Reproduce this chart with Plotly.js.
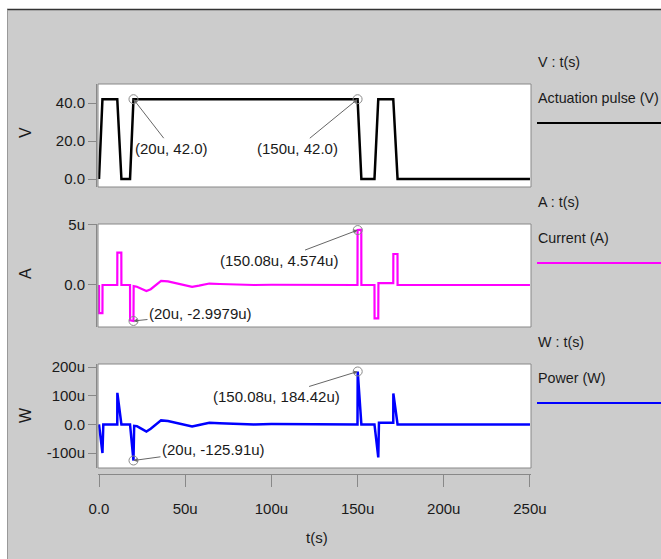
<!DOCTYPE html>
<html>
<head>
<meta charset="utf-8">
<script src="https://cdn.plot.ly/plotly-3.0.1.min.js"></script>
<style>html,body{margin:0;padding:0;background:#cccccc;}#chart{width:661px;height:559px;}</style>
</head>
<body>
<div id="chart"></div>
<script>
// ---- data (time in microseconds) ----
const vTime = [0, 2, 10.6, 13, 18, 20, 150, 152.2, 159.8, 162, 170.7, 173.2, 250];
const vVolt = [0, 42, 42, 0, 0, 42, 42, 0, 0, 42, 42, 0, 0];

const iTime = [0, 0.05, 2.0, 2.05, 10.6, 10.65, 12.95, 13.0, 18.0, 18.05, 20.0, 20.1, 22, 24, 27.5, 30, 33, 36, 40, 45, 50, 54, 58, 64, 70, 80, 90, 100, 149.95, 150.0, 152.15, 152.2, 159.8, 159.85, 162.0, 162.1, 170.7, 170.75, 173.15, 173.2, 250];
const iAmp  = [0, -2.35, -2.35, 0, 0, 2.7, 2.7, 0, 0, -2.95, -3.0, -0.1, -0.15, -0.3, -0.5, -0.35, 0.0, 0.35, 0.3, 0.15, -0.05, -0.15, -0.05, 0.12, 0.08, 0.03, 0, 0.02, 0, 4.574, 4.6, 0, 0, -2.78, -2.78, 0.15, 0.15, 2.58, 2.58, 0, 0];

const pTime = [0, 2.0, 2.5, 10.6, 10.65, 13.0, 18.0, 20.0, 20.4, 22, 24, 27.5, 30, 33, 36, 40, 45, 50, 54, 58, 64, 70, 80, 90, 100, 149.95, 150.08, 152.2, 159.8, 162.0, 162.4, 170.7, 170.75, 173.2, 250];
const pWatt = [0, -100, 0, 0, 110, 0, 0, -125.91, -5, -6, -13, -25, -15, 0, 14, 12, 6, -2, -7, -2, 6, 4, 2, 0, 1, 0, 184.42, 0, 0, -115, 6, 6, 108, 0, 0];

const vMarkT = [20, 150],    vMarkY = [42, 42],          vMarkTxt = ["(20u, 42.0)", "(150u, 42.0)"];
const iMarkT = [20, 150.08], iMarkY = [-2.9979, 4.574],  iMarkTxt = ["(20u, -2.9979u)", "(150.08u, 4.574u)"];
const pMarkT = [20, 150.08], pMarkY = [-125.91, 184.42], pMarkTxt = ["(20u, -125.91u)", "(150.08u, 184.42u)"];

const xTickVals = [0, 50, 100, 150, 200, 250];
const xTickText = ["0.0", "50u", "100u", "150u", "200u", "250u"];
const vTickVals = [0, 20, 40],  vTickText = ["0.0", "20.0", "40.0"];
const iTickVals = [0, 5],       iTickText = ["0.0", "5u"];
const pTickVals = [-100, 0, 100, 200], pTickText = ["-100u", "0.0", "100u", "200u"];

// ---- layout helpers ----
const W = 661, H = 559;
const PX = p => p / W, PY = p => 1 - p / H;
const FONT = "Liberation Sans, Arial, sans-serif";
const TXT = "#1a1a1a";
const FS = 15;
const LFS = 14.3;
const xDom = [PX(98), PX(531)];
const xRange = [-0.58, 250.6];

const traces = [
  {x: vTime, y: vVolt, xaxis: 'x', yaxis: 'y', mode: 'lines', line: {color: '#000000', width: 2.5}, hoverinfo: 'skip'},
  {x: iTime, y: iAmp, xaxis: 'x2', yaxis: 'y2', mode: 'lines', line: {color: '#ff00ff', width: 2.2}, hoverinfo: 'skip'},
  {x: pTime, y: pWatt, xaxis: 'x3', yaxis: 'y3', mode: 'lines', line: {color: '#0000ff', width: 2.5}, hoverinfo: 'skip'},
  {x: vMarkT, y: vMarkY, xaxis: 'x', yaxis: 'y', mode: 'markers', marker: {symbol: 'circle-open', size: 9, color: '#8a8a8a', line: {width: 1}}},
  {x: iMarkT, y: iMarkY, xaxis: 'x2', yaxis: 'y2', mode: 'markers', marker: {symbol: 'circle-open', size: 9, color: '#8a8a8a', line: {width: 1}}},
  {x: pMarkT, y: pMarkY, xaxis: 'x3', yaxis: 'y3', mode: 'markers', marker: {symbol: 'circle-open', size: 9, color: '#8a8a8a', line: {width: 1}}}
];

const hiddenX = {domain: xDom, range: xRange, showticklabels: false, ticks: '', showline: false, showgrid: false, zeroline: false, fixedrange: true};
function yAx(dom, range, tv, tt) {
  return {domain: dom, range: range, anchor: 'free', position: PX(96), tickvals: tv, ticktext: tt,
    ticks: 'outside', ticklen: 8, tickcolor: '#888', showline: true, linecolor: '#888', linewidth: 1,
    showgrid: false, zeroline: false, tickfont: {family: FONT, size: FS, color: TXT}};
}

const annotations = [];
function markAnn(xs, ys, txts, xr, yr, offs) {
  for (let k = 0; k < xs.length; k++) {
    annotations.push({x: xs[k], y: ys[k], xref: xr, yref: yr, text: txts[k], showarrow: true,
      ax: offs[k][0], ay: offs[k][1], arrowcolor: '#666', arrowwidth: 1, arrowhead: 2, arrowsize: 0.8,
      standoff: 0, font: {family: FONT, size: FS, color: TXT}});
  }
}
markAnn(vMarkT, vMarkY, vMarkTxt, 'x', 'y', [[38, 49], [-60, 49]]);
markAnn(iMarkT, iMarkY, iMarkTxt, 'x2', 'y2', [[67, -7], [-79, 30]]);
markAnn(pMarkT, pMarkY, pMarkTxt, 'x3', 'y3', [[80, -11], [-81, 25]]);

function paperText(text, x, y, size, opts) {
  annotations.push(Object.assign({text: text, x: PX(x), y: PY(y), xref: 'paper', yref: 'paper',
    showarrow: false, xanchor: 'left', yanchor: 'middle', font: {family: FONT, size: size, color: TXT}}, opts || {}));
}
// axis titles
paperText('V', 25, 133, 16, {xanchor: 'center', textangle: -90});
paperText('A', 25, 274, 16, {xanchor: 'center', textangle: -90});
paperText('W', 25, 415, 16, {xanchor: 'center', textangle: -90});
paperText('t(s)', 317, 537, FS, {xanchor: 'center'});
// legend text
paperText('V : t(s)', 536, 62, LFS);
paperText('Actuation pulse (V)', 536, 98, LFS);
paperText('A : t(s)', 536, 202, LFS);
paperText('Current (A)', 536, 238, LFS);
paperText('W : t(s)', 536, 342, LFS);
paperText('Power (W)', 536, 378, LFS);

const shapes = [
  // outer frame
  {type: 'rect', xref: 'paper', yref: 'paper', x0: 0, x1: 1, y0: PY(9), y1: 1, fillcolor: '#ffffff', line: {width: 0}},
  {type: 'rect', xref: 'paper', yref: 'paper', x0: 0, x1: PX(7), y0: 0, y1: 1, fillcolor: '#ffffff', line: {width: 0}},
  {type: 'line', xref: 'paper', yref: 'paper', x0: PX(7), x1: 1, y0: PY(9.5), y1: PY(9.5), line: {color: '#333', width: 1.5}},
  {type: 'line', xref: 'paper', yref: 'paper', x0: PX(7.5), x1: PX(7.5), y0: 0, y1: PY(9.5), line: {color: '#999', width: 1}},
  // panel frames
  {type: 'rect', xref: 'x domain', yref: 'y domain', x0: 0, x1: 1, y0: 0, y1: 1, line: {color: '#888', width: 1}},
  {type: 'rect', xref: 'x2 domain', yref: 'y2 domain', x0: 0, x1: 1, y0: 0, y1: 1, line: {color: '#888', width: 1}},
  {type: 'rect', xref: 'x3 domain', yref: 'y3 domain', x0: 0, x1: 1, y0: 0, y1: 1, line: {color: '#888', width: 1}},
  // legend sample lines
  {type: 'line', xref: 'paper', yref: 'paper', x0: PX(537), x1: 1, y0: PY(123), y1: PY(123), line: {color: '#000000', width: 2}},
  {type: 'line', xref: 'paper', yref: 'paper', x0: PX(537), x1: 1, y0: PY(263), y1: PY(263), line: {color: '#ff00ff', width: 2}},
  {type: 'line', xref: 'paper', yref: 'paper', x0: PX(537), x1: 1, y0: PY(403), y1: PY(403), line: {color: '#0000ff', width: 2}}
];

const layout = {
  width: W, height: H, margin: {l: 0, r: 0, t: 0, b: 0},
  paper_bgcolor: '#cccccc', plot_bgcolor: '#ffffff', showlegend: false,
  font: {family: FONT, size: FS, color: TXT},
  xaxis: Object.assign({}, hiddenX, {anchor: 'y'}),
  xaxis2: Object.assign({}, hiddenX, {anchor: 'y2'}),
  xaxis3: {domain: xDom, range: xRange, anchor: 'free', position: PY(474), tickvals: xTickVals, ticktext: xTickText,
    ticks: 'outside', ticklen: 12, tickcolor: '#888', showline: true, linecolor: '#888', linewidth: 1,
    ticklabelstandoff: 9, showgrid: false, zeroline: false, tickfont: {family: FONT, size: FS, color: TXT}},
  yaxis: yAx([PY(187), PY(84)], [-4.2, 50], vTickVals, vTickText),
  yaxis2: yAx([PY(327), PY(224)], [-3.5, 5.08], iTickVals, iTickText),
  yaxis3: yAx([PY(468), PY(364)], [-152, 210.5], pTickVals, pTickText),
  annotations: annotations,
  shapes: shapes
};

Plotly.newPlot('chart', traces, layout, {staticPlot: true, displayModeBar: false});
</script>
</body>
</html>
